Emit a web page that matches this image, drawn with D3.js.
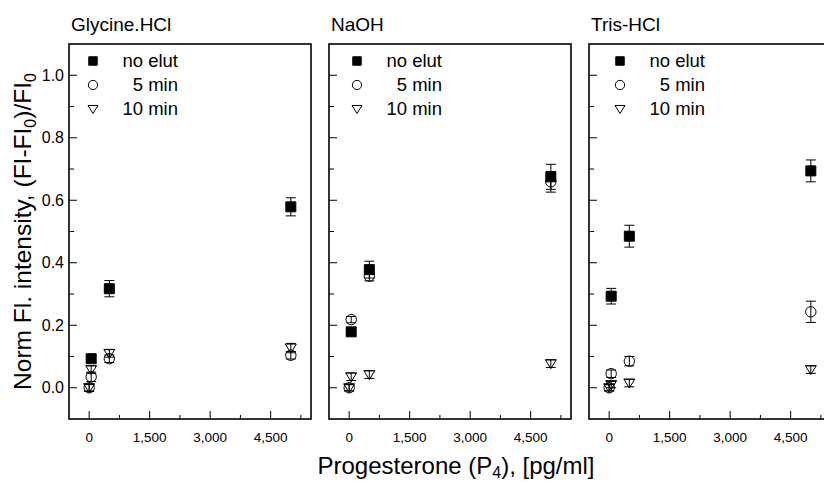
<!DOCTYPE html>
<html>
<head>
<meta charset="utf-8">
<script src="https://cdn.jsdelivr.net/npm/d3@7"></script>
<style>
  body { margin: 0; background: #fff; }
  svg { display: block; font-family: "Liberation Sans", Arial, sans-serif; }
</style>
</head>
<body>
<div id="chart"></div>
<script>
// panels, series and x positions (pg/ml)
const PANELS = ['Glycine.HCl', 'NaOH', 'Tris-HCl'];
const SERIES = ['no elut', '5 min', '10 min'];
const CONC = [0, 50, 500, 5000];

const X_TICKS = [0, 1500, 3000, 4500];
const X_MINOR = [750, 2250, 3750, 5250];
const Y_TICKS = [0, 0.2, 0.4, 0.6, 0.8, 1.0];
const Y_MINOR = [0.1, 0.3, 0.5, 0.7, 0.9];

// values per panel, one row per series, aligned with CONC (null = no point)
const GLY_VALUES = [
  [null, 0.093, 0.317, 0.579],
  [0, 0.035, 0.093, 0.104],
  [0, 0.058, 0.110, 0.127]
];
const GLY_ERRORS = [
  [null, 0.010, 0.026, 0.029],
  [0.012, 0.015, 0.012, 0.012],
  [0.010, 0.012, 0.012, 0.015]
];
const NAOH_VALUES = [
  [null, 0.179, 0.378, 0.675],
  [0, 0.218, 0.357, 0.659],
  [0, 0.035, 0.042, 0.077]
];
const NAOH_ERRORS = [
  [null, 0.010, 0.027, 0.040],
  [0.010, 0.010, 0.015, 0.033],
  [0.010, 0.012, 0.012, 0.012]
];
const TRIS_VALUES = [
  [null, 0.293, 0.485, 0.694],
  [0, 0.045, 0.085, 0.243],
  [0, 0.010, 0.015, 0.058]
];
const TRIS_ERRORS = [
  [null, 0.025, 0.035, 0.035],
  [0.010, 0.012, 0.015, 0.034],
  [0.010, 0.010, 0.012, 0.012]
];

const VALUES = [GLY_VALUES, NAOH_VALUES, TRIS_VALUES];
const ERRORS = [GLY_ERRORS, NAOH_ERRORS, TRIS_ERRORS];

const width = 824, height = 483;
const plotTop = 44, plotBottom = 419;
const panelW = 242, panelStep = 260, firstLeft = 69;
const legendDx = [24, 28, 31];
const legendTextDx = [109, 113, 116];

const svg = d3.select('#chart').append('svg')
  .attr('width', width)
  .attr('height', height);

const y = d3.scaleLinear().domain([-0.1, 1.1]).range([plotBottom, plotTop]);

const symbolPath = {
  'no elut': d3.symbol().type(d3.symbolSquare).size(100)(),
  '5 min': d3.symbol().type(d3.symbolCircle).size(85)(),
  '10 min': 'M-5.5,-4L5.5,-4L0,5Z'
};
const legendPath = {
  'no elut': d3.symbol().type(d3.symbolSquare).size(72)(),
  '5 min': d3.symbol().type(d3.symbolCircle).size(68)(),
  '10 min': 'M-5,-3.5L5,-3.5L0,4.5Z'
};

function styleSymbol(sel, name) {
  sel.attr('fill', name === 'no elut' ? '#000' : 'none')
    .attr('stroke', '#000')
    .attr('stroke-width', 1);
}

PANELS.forEach((title, pi) => {
  const left = firstLeft + pi * panelStep;
  const x = d3.scaleLinear().domain([-500, 5500]).range([left, left + panelW]);
  const g = svg.append('g');

  // ticks pointing inward
  g.append('g').attr('stroke', '#000').attr('stroke-width', 1)
    .selectAll('line').data(X_TICKS).join('line')
    .attr('x1', d => x(d)).attr('x2', d => x(d))
    .attr('y1', plotBottom).attr('y2', plotBottom - 8);
  g.append('g').attr('stroke', '#000').attr('stroke-width', 1)
    .selectAll('line').data(X_MINOR).join('line')
    .attr('x1', d => x(d)).attr('x2', d => x(d))
    .attr('y1', plotBottom).attr('y2', plotBottom - 4);
  g.append('g').attr('stroke', '#000').attr('stroke-width', 1)
    .selectAll('line').data(Y_TICKS).join('line')
    .attr('x1', left).attr('x2', left + 8)
    .attr('y1', d => y(d)).attr('y2', d => y(d));
  g.append('g').attr('stroke', '#000').attr('stroke-width', 1)
    .selectAll('line').data(Y_MINOR).join('line')
    .attr('x1', left).attr('x2', left + 5)
    .attr('y1', d => y(d)).attr('y2', d => y(d));

  g.append('g').attr('font-size', 13.5).attr('text-anchor', 'middle')
    .selectAll('text').data(X_TICKS).join('text')
    .attr('x', d => x(d)).attr('y', plotBottom + 23)
    .text(d => d3.format(',')(d));

  if (pi === 0) {
    g.append('g').attr('font-size', 16).attr('text-anchor', 'end')
      .selectAll('text').data(Y_TICKS).join('text')
      .attr('x', left - 5).attr('y', d => y(d)).attr('dy', '0.35em')
      .text(d => d3.format('.1f')(d));
  }

  g.append('rect')
    .attr('x', left).attr('y', plotTop)
    .attr('width', panelW).attr('height', plotBottom - plotTop)
    .attr('fill', 'none').attr('stroke', '#111').attr('stroke-width', 1.7);

  g.append('text')
    .attr('x', left + 2).attr('y', plotTop - 13)
    .attr('font-size', 19)
    .text(title);

  // error bars then symbols, series drawn last to first
  SERIES.slice().reverse().forEach((name) => {
    const si = SERIES.indexOf(name);
    const pts = CONC.map((c, k) => ({ c, v: VALUES[pi][si][k], e: ERRORS[pi][si][k] }))
      .filter(p => p.v !== null);
    const eg = g.append('g').attr('stroke', '#000').attr('stroke-width', 1);
    pts.forEach(p => {
      const cx = x(p.c);
      eg.append('line').attr('x1', cx).attr('x2', cx).attr('y1', y(p.v - p.e)).attr('y2', y(p.v + p.e));
      eg.append('line').attr('x1', cx - 5).attr('x2', cx + 5).attr('y1', y(p.v - p.e)).attr('y2', y(p.v - p.e));
      eg.append('line').attr('x1', cx - 5).attr('x2', cx + 5).attr('y1', y(p.v + p.e)).attr('y2', y(p.v + p.e));
    });
    g.append('g').selectAll('path').data(pts).join('path')
      .attr('d', symbolPath[name])
      .attr('transform', p => `translate(${x(p.c)},${y(p.v)})`)
      .call(styleSymbol, name);
  });

  // legend
  const lg = g.append('g');
  SERIES.forEach((name, i) => {
    const ly = plotTop + 17 + i * 24;
    lg.append('path')
      .attr('d', legendPath[name])
      .attr('transform', `translate(${left + legendDx[pi]},${ly})`)
      .call(styleSymbol, name);
    lg.append('text')
      .attr('x', left + legendTextDx[pi]).attr('y', ly).attr('dy', '0.35em')
      .attr('text-anchor', 'end').attr('font-size', 18.5)
      .text(name);
  });
});

// axis titles
const yt = svg.append('text')
  .attr('transform', `translate(31,${(plotTop + plotBottom) / 2}) rotate(-90)`)
  .attr('text-anchor', 'middle').attr('font-size', 24.5);
yt.append('tspan').text('Norm Fl. intensity, (FI-FI');
yt.append('tspan').attr('font-size', 16).attr('dy', 5).text('0');
yt.append('tspan').attr('dy', -5).text(')/FI');
yt.append('tspan').attr('font-size', 16).attr('dy', 5).text('0');

const xt = svg.append('text')
  .attr('x', 456).attr('y', 474)
  .attr('text-anchor', 'middle').attr('font-size', 24);
xt.append('tspan').text('Progesterone (P');
xt.append('tspan').attr('font-size', 16).attr('dy', 4).text('4');
xt.append('tspan').attr('dy', -4).text('), [pg/ml]');
</script>
</body>
</html>
